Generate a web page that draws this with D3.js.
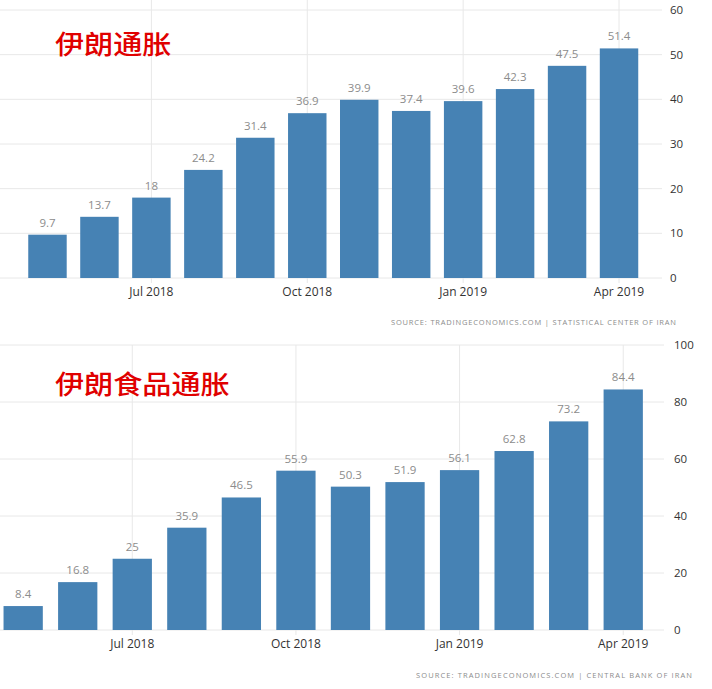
<!DOCTYPE html>
<html><head><meta charset="utf-8">
<script src="https://cdn.jsdelivr.net/npm/d3@7/dist/d3.min.js"></script>
<style>
body{margin:0;background:#fff;}
svg{display:block;font-family:"Open Sans","Noto Sans",sans-serif;}
</style></head>
<body><svg id="c" width="712" height="689"></svg>
<script>
const months = ["May 2018","Jun 2018","Jul 2018","Aug 2018","Sep 2018","Oct 2018","Nov 2018","Dec 2018","Jan 2019","Feb 2019","Mar 2019","Apr 2019"];
const tickMonths = ["Jul 2018","Oct 2018","Jan 2019","Apr 2019"];
const inflation = [9.7,13.7,18,24.2,31.4,36.9,39.9,37.4,39.6,42.3,47.5,51.4];
const foodInflation = [8.4,16.8,25,35.9,46.5,55.9,50.3,51.9,56.1,62.8,73.2,84.4];
const topTicks = [0,10,20,30,40,50,60];
const bottomTicks = [0,20,40,60,80,100];
const titles = ["伊朗通胀","伊朗食品通胀"];
const sources = ["SOURCE: TRADINGECONOMICS.COM | STATISTICAL CENTER OF IRAN","SOURCE: TRADINGECONOMICS.COM | CENTRAL BANK OF IRAN"];

const svg = d3.select("#c");

function drawChart(cfg){
  const g = svg.append("g");
  const x = d3.scaleBand().domain(months).range(cfg.xr).paddingInner(cfg.pi).paddingOuter(cfg.pi/2);
  const y = d3.scaleLinear().domain(cfg.dom).range(cfg.yr);
  g.selectAll("line.h").data(cfg.ticks).join("line")
    .attr("x1",0).attr("x2",cfg.gridEnd)
    .attr("y1",d=>y(d)).attr("y2",d=>y(d))
    .attr("stroke","#e8e8e8").attr("stroke-width",1);
  g.selectAll("line.v").data(tickMonths).join("line")
    .attr("x1",d=>x(d)+x.bandwidth()/2).attr("x2",d=>x(d)+x.bandwidth()/2)
    .attr("y1",cfg.vTop).attr("y2",cfg.yr[0]+5)
    .attr("stroke","#e8e8e8").attr("stroke-width",1);
  g.selectAll("rect").data(cfg.values).join("rect")
    .attr("x",(d,i)=>x(months[i])).attr("width",x.bandwidth())
    .attr("y",d=>y(d)).attr("height",d=>y(0)-y(d))
    .attr("fill","#4682b4");
  g.selectAll("text.val").data(cfg.values).join("text")
    .attr("x",(d,i)=>x(months[i])+x.bandwidth()/2).attr("y",d=>y(d)-8)
    .attr("text-anchor","middle").attr("font-size",11.5).attr("fill","#8c8c8c")
    .text(d=>d);
  g.selectAll("text.yt").data(cfg.ticks).join("text")
    .attr("x",cfg.yLabX).attr("y",d=>y(d)+4)
    .attr("font-size",11.5).attr("fill","#333")
    .text(d=>d);
  g.selectAll("text.xt").data(tickMonths).join("text")
    .attr("x",d=>x(d)+x.bandwidth()/2).attr("y",cfg.yr[0]+18)
    .attr("text-anchor","middle").attr("font-size",12).attr("fill","#333")
    .text(d=>d);
  g.append("text").attr("transform",`translate(55,${cfg.titleY}) scale(1.12,1)`)
    .attr("font-family","'Noto Sans CJK SC',sans-serif").attr("font-weight",500)
    .attr("font-size",26).attr("fill","#e00000").text(cfg.title);
  g.append("text").attr("x",cfg.srcX).attr("y",cfg.srcY)
    .attr("font-size",7.5).attr("textLength",cfg.srcW).attr("lengthAdjust","spacing")
    .attr("fill","#8c8c8c").text(cfg.source);
}

drawChart({values:inflation, ticks:topTicks, dom:[0,60], yr:[278,10], xr:[21.5,645], pi:0.26,
  gridEnd:662, vTop:0, yLabX:670, title:titles[0], titleY:54, source:sources[0], srcX:391, srcW:285, srcY:325});
drawChart({values:foodInflation, ticks:bottomTicks, dom:[0,100], yr:[630,345], xr:[-4.1,650.5], pi:0.28,
  gridEnd:664, vTop:345, yLabX:674, title:titles[1], titleY:394, source:sources[1], srcX:416, srcW:276, srcY:678});
</script></body></html>
